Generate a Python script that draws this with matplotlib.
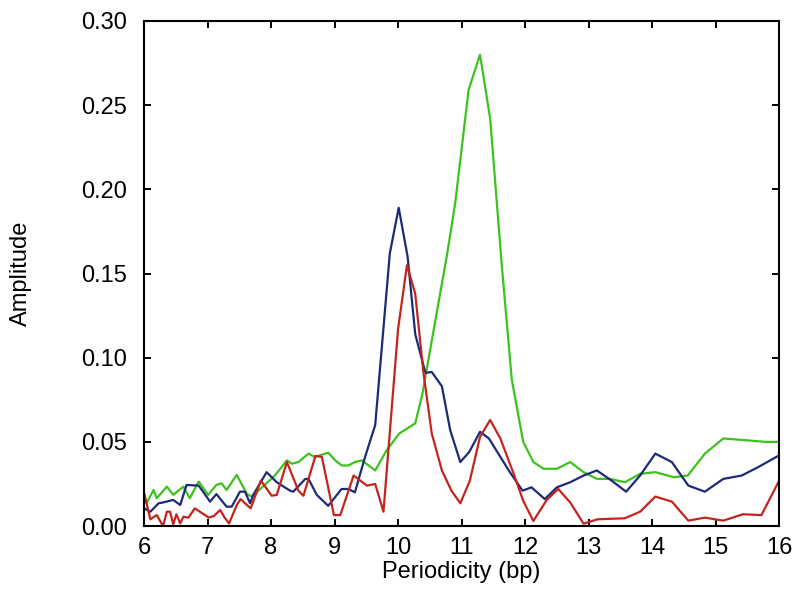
import matplotlib
matplotlib.use("Agg")
import matplotlib.pyplot as plt

plt.rcParams['font.family'] = ['Liberation Sans', 'DejaVu Sans']

# Green series
green_x = [6.0, 6.04, 6.15, 6.2, 6.36, 6.46, 6.62, 6.72, 6.86, 7.01, 7.14, 7.22, 7.30, 7.46,
           7.62, 7.70, 7.83, 8.06, 8.25, 8.33, 8.43, 8.59, 8.69, 8.90, 9.01, 9.11, 9.22, 9.32,
           9.43, 9.64, 9.82, 10.02, 10.27, 10.38, 10.61, 10.77, 10.90, 11.11, 11.29, 11.45,
           11.63, 11.79, 11.97, 12.13, 12.29, 12.50, 12.71, 12.92, 13.13, 13.34, 13.57, 13.81,
           14.05, 14.34, 14.56, 14.83, 15.12, 15.46, 15.78, 16.0]
green_y = [0.019, 0.0135, 0.0214, 0.0165, 0.0234, 0.0185, 0.0234, 0.0165, 0.0264, 0.0185,
           0.0244, 0.0254, 0.0214, 0.0304, 0.019, 0.0175, 0.022, 0.030, 0.039, 0.037, 0.038,
           0.043, 0.041, 0.0436, 0.039, 0.036, 0.036, 0.038, 0.039, 0.033, 0.045, 0.055, 0.061,
           0.078, 0.127, 0.161, 0.192, 0.259, 0.280, 0.242, 0.156, 0.087, 0.050, 0.038, 0.034,
           0.034, 0.038, 0.032, 0.028, 0.028, 0.026, 0.031, 0.032, 0.029, 0.030, 0.043, 0.052,
           0.051, 0.050, 0.050]

# Blue series
blue_x = [6.0, 6.1, 6.23, 6.30, 6.46, 6.57, 6.67, 6.86, 6.93, 7.04, 7.14, 7.30, 7.38, 7.51,
          7.59, 7.67, 7.72, 7.93, 8.09, 8.30, 8.35, 8.54, 8.59, 8.72, 8.90, 9.11, 9.22, 9.32,
          9.48, 9.64, 9.87, 10.01, 10.15, 10.27, 10.43, 10.53, 10.69, 10.82, 10.98, 11.12,
          11.29, 11.43, 11.76, 11.96, 12.10, 12.31, 12.50, 12.71, 12.92, 13.13, 13.36, 13.59,
          13.81, 14.05, 14.31, 14.57, 14.83, 15.12, 15.41, 15.67, 16.0]
blue_y = [0.0105, 0.0085, 0.0135, 0.014, 0.0155, 0.0125, 0.0244, 0.024, 0.0204, 0.0145, 0.019,
          0.0115, 0.0115, 0.0204, 0.0204, 0.0135, 0.0185, 0.032, 0.026, 0.021, 0.0204, 0.028,
          0.028, 0.0185, 0.012, 0.022, 0.022, 0.020, 0.041, 0.060, 0.162, 0.189, 0.160, 0.114,
          0.091, 0.0915, 0.083, 0.057, 0.038, 0.044, 0.056, 0.052, 0.032, 0.021, 0.023, 0.016,
          0.023, 0.026, 0.030, 0.033, 0.027, 0.0204, 0.030, 0.043, 0.038, 0.024, 0.0204, 0.028,
          0.030, 0.035, 0.042]

# Red series
red_x = [6.0, 6.1, 6.2, 6.30, 6.36, 6.41, 6.46, 6.51, 6.57, 6.62, 6.70, 6.80, 6.90, 7.02,
         7.10, 7.20, 7.27, 7.34, 7.46, 7.52, 7.59, 7.68, 7.84, 8.01, 8.09, 8.25, 8.43, 8.51,
         8.70, 8.80, 8.99, 9.09, 9.30, 9.51, 9.64, 9.77, 10.0, 10.14, 10.27, 10.40, 10.53,
         10.69, 10.84, 10.98, 11.13, 11.29, 11.45, 11.61, 11.82, 11.97, 12.13, 12.34, 12.52,
         12.71, 12.92, 13.14, 13.57, 13.81, 14.05, 14.31, 14.57, 14.83, 15.12, 15.43, 15.72, 16.0]
red_y = [0.020, 0.004, 0.0065, 0.0, 0.0085, 0.0085, 0.001, 0.007, 0.0016, 0.0055, 0.005,
         0.0105, 0.008, 0.005, 0.006, 0.0095, 0.005, 0.0015, 0.0125, 0.016, 0.0135, 0.0105,
         0.027, 0.018, 0.0185, 0.038, 0.021, 0.018, 0.0417, 0.041, 0.0065, 0.0065, 0.030,
         0.024, 0.025, 0.0085, 0.117, 0.155, 0.138, 0.091, 0.055, 0.033, 0.021, 0.0135, 0.027,
         0.053, 0.063, 0.052, 0.031, 0.015, 0.003, 0.0155, 0.022, 0.014, 0.0014, 0.004, 0.0046,
         0.0085, 0.0175, 0.0145, 0.0032, 0.005, 0.0032, 0.007, 0.0065, 0.027]

x_ticks = [6, 7, 8, 9, 10, 11, 12, 13, 14, 15, 16]
y_ticks = [0.00, 0.05, 0.10, 0.15, 0.20, 0.25, 0.30]

fig = plt.figure(figsize=(8, 5.96), dpi=100)
ax = fig.add_axes([0.18, 0.1174, 0.794, 0.8474])

ax.plot(green_x, green_y, color='#3cc21c', lw=1.6)
ax.plot(blue_x, blue_y, color='#1c2a7a', lw=1.6)
ax.plot(red_x, red_y, color='#c4241c', lw=1.6)

ax.set_xlim(6, 16)
ax.set_ylim(0, 0.30)
ax.set_xticks(x_ticks)
ax.set_yticks(y_ticks)
ax.set_yticklabels(['%.2f' % v for v in y_ticks])

ax.tick_params(direction='in', length=5, width=1.4, top=True, right=True, labelsize=17)
ax.tick_params(axis='x', pad=8)
ax.tick_params(axis='y', pad=12)
for s in ax.spines.values():
    s.set_linewidth(1.5)

ax.set_xlabel('Periodicity (bp)', fontsize=17, labelpad=1)
ax.set_ylabel('Amplitude', fontsize=17, labelpad=36)

fig.savefig('out.png', dpi=100)
